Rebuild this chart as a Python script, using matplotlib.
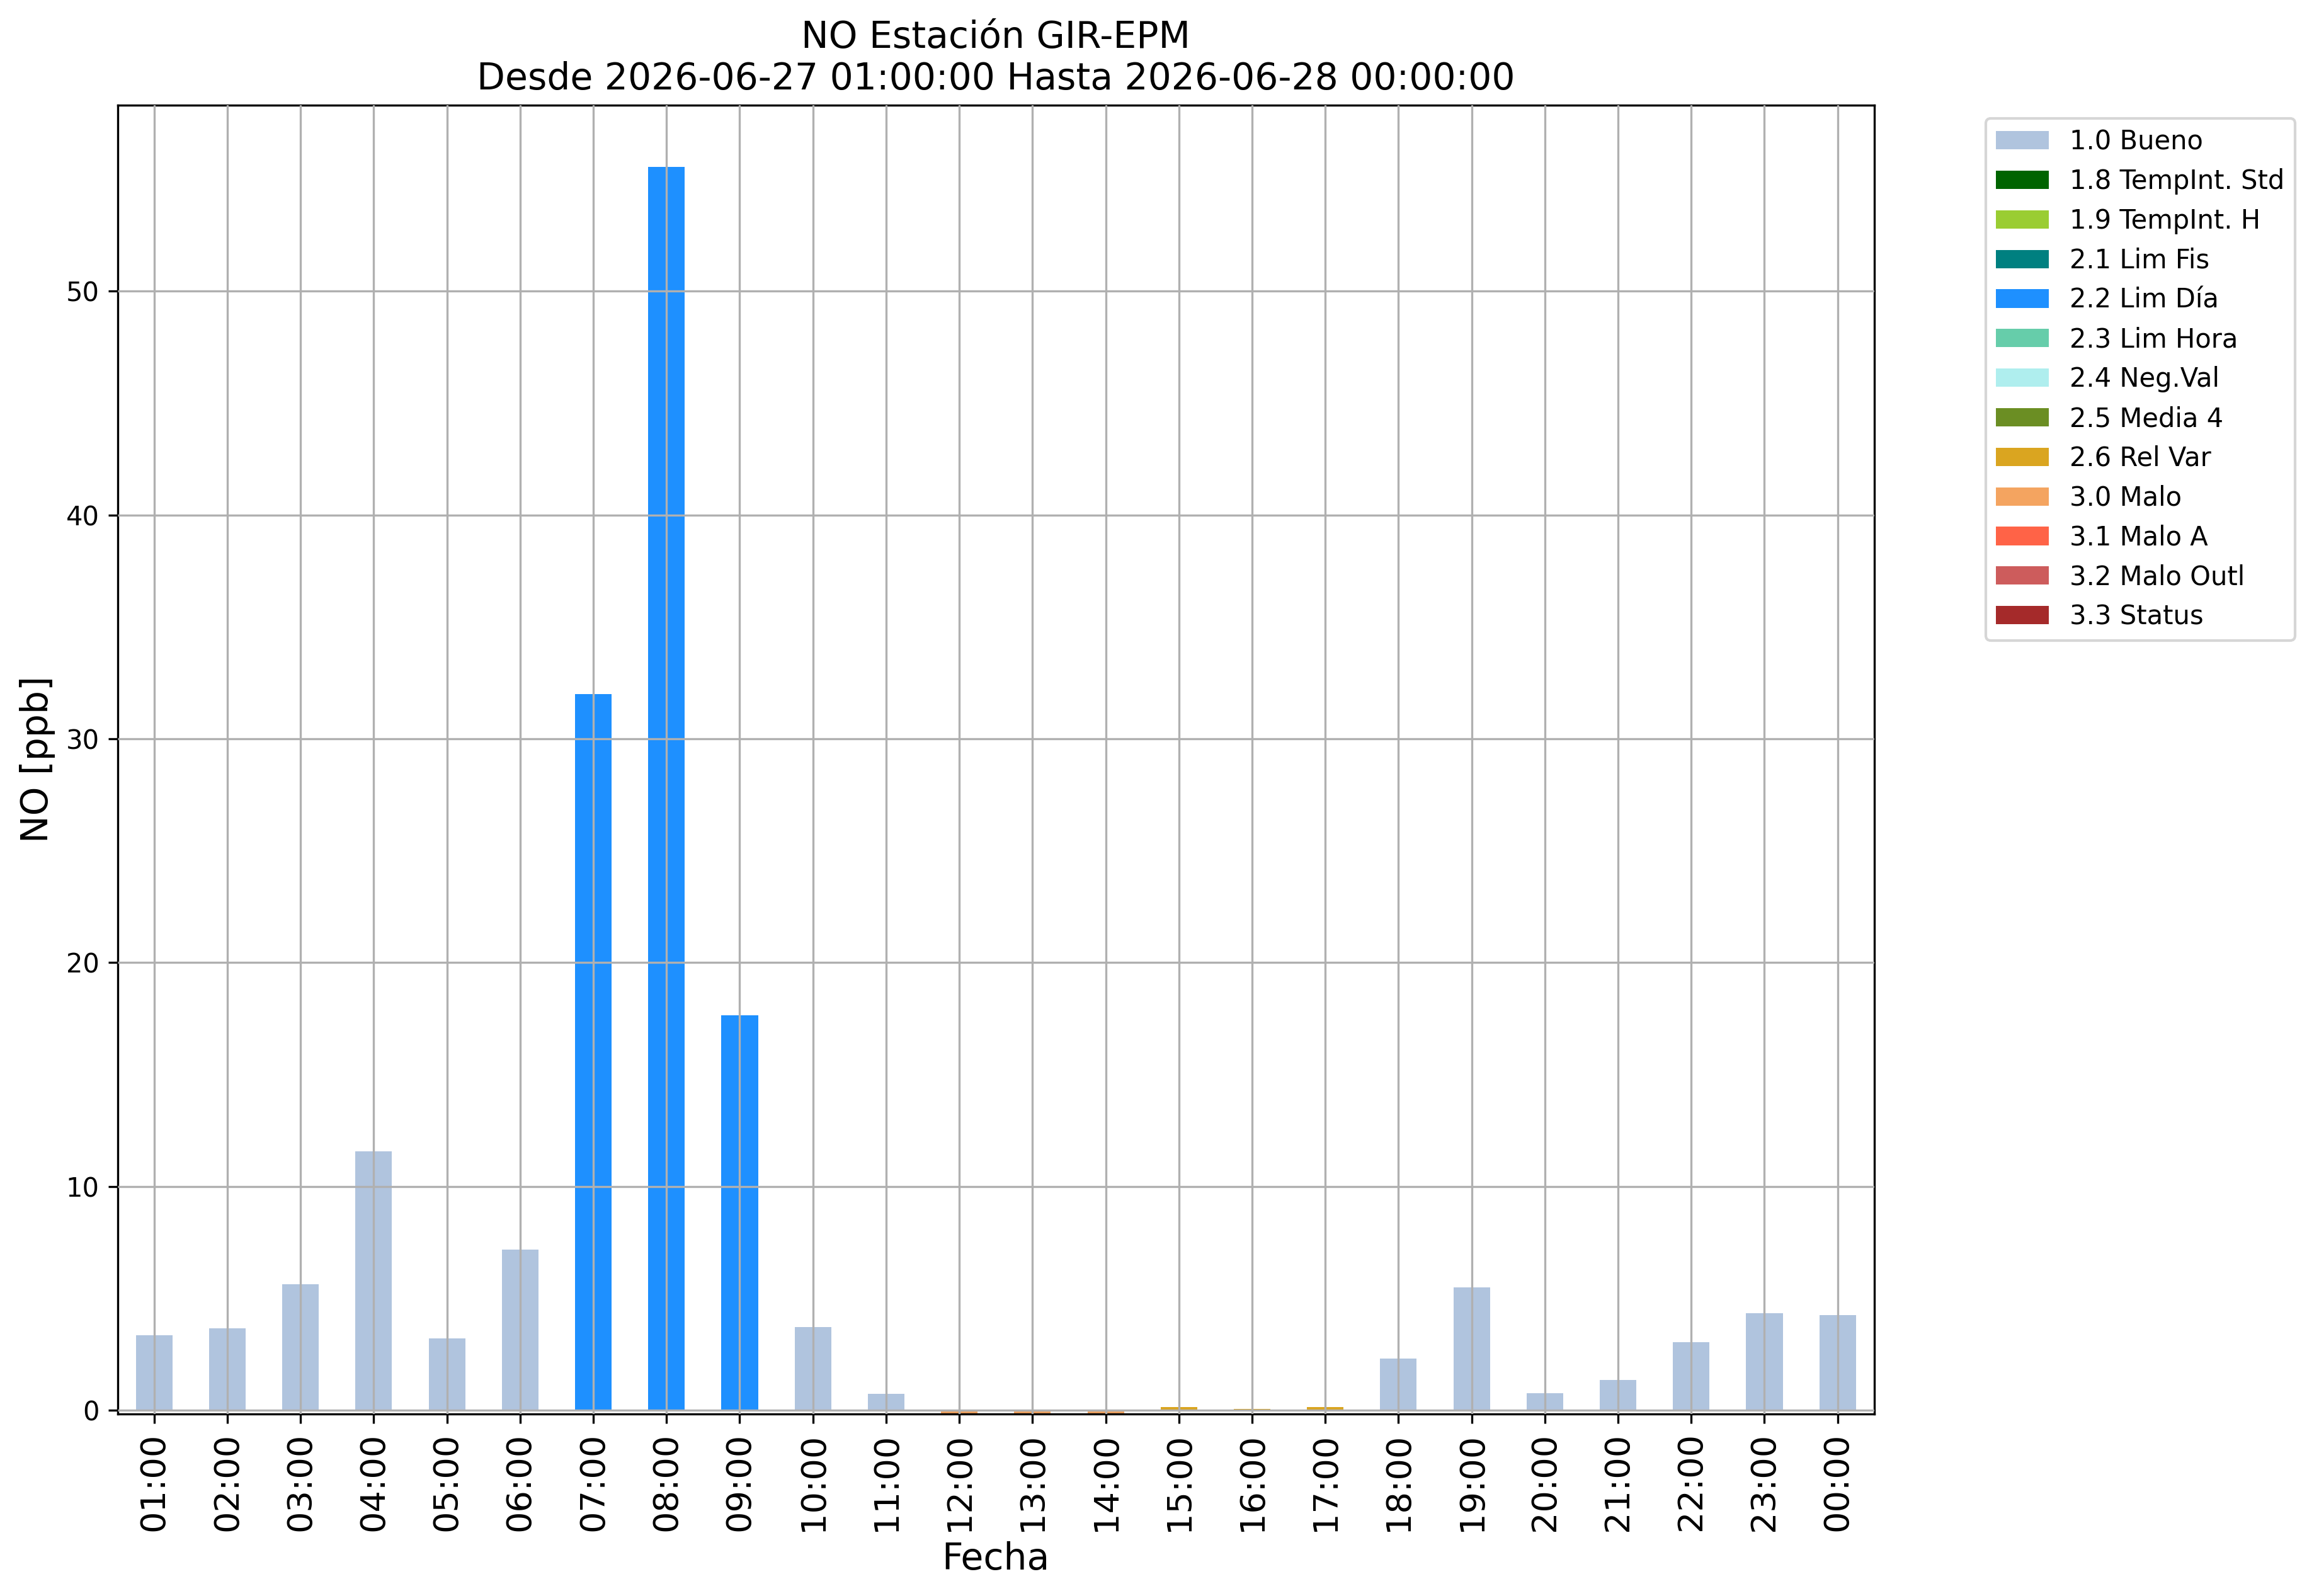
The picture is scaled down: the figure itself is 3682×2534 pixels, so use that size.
import numpy as np
import matplotlib
matplotlib.use("Agg")
import matplotlib.pyplot as plt
from matplotlib.patches import Patch

# horas del dia y concentracion de NO [ppb]
horas = ["01:00", "02:00", "03:00", "04:00", "05:00", "06:00", "07:00", "08:00",
         "09:00", "10:00", "11:00", "12:00", "13:00", "14:00", "15:00", "16:00",
         "17:00", "18:00", "19:00", "20:00", "21:00", "22:00", "23:00", "00:00"]
valores = [3.34, 3.65, 5.63, 11.56, 3.20, 7.17, 32.0, 55.55,
           17.65, 3.72, 0.72, -0.13, -0.13, -0.13, 0.13, 0.07,
           0.13, 2.31, 5.48, 0.75, 1.35, 3.04, 4.33, 4.25]
banderas = ["1.0 Bueno"] * 6 + ["2.2 Lim Día"] * 3 + ["1.0 Bueno"] * 2 \
    + ["3.0 Malo"] * 3 + ["2.6 Rel Var"] * 3 + ["1.0 Bueno"] * 7

# categorias de calidad del dato y sus colores
categorias = ["1.0 Bueno", "1.8 TempInt. Std", "1.9 TempInt. H", "2.1 Lim Fis",
              "2.2 Lim Día", "2.3 Lim Hora", "2.4 Neg.Val", "2.5 Media 4",
              "2.6 Rel Var", "3.0 Malo", "3.1 Malo A", "3.2 Malo Outl", "3.3 Status"]
colores = ["lightsteelblue", "darkgreen", "yellowgreen", "teal",
           "dodgerblue", "mediumaquamarine", "paleturquoise", "olivedrab",
           "goldenrod", "sandybrown", "tomato", "indianred", "brown"]
color_de = dict(zip(categorias, colores))

fig = plt.figure(figsize=(3682 / 300, 2534 / 300), dpi=300, facecolor="w")
ax = fig.add_axes([0.0507, 0.1140, 0.7575, 0.8202])

x = np.arange(len(horas))
ax.bar(x, valores, width=0.5, color=[color_de[b] for b in banderas], zorder=1)

ax.set_xlim(-0.5, len(horas) - 0.5)
ax.set_ylim(-0.17, 58.32)
ax.set_xticks(x)
ax.set_xticklabels(horas, rotation=90, fontsize=13)
ax.set_yticks([0, 10, 20, 30, 40, 50])
ax.tick_params(axis="y", labelsize=10)
ax.grid(True, color="#b0b0b0", lw=0.8, zorder=3)
ax.set_axisbelow(False)

ax.set_xlabel("Fecha", fontsize=14)
ax.set_ylabel("NO [ppb]", fontsize=14)
ax.set_title("NO Estación GIR-EPM\nDesde 2026-06-27 01:00:00 Hasta 2026-06-28 00:00:00",
             fontsize=14)

handles = [Patch(facecolor=c, label=l) for l, c in zip(categorias, colores)]
ax.legend(handles=handles, loc="upper left", bbox_to_anchor=(1.056, 1),
          fontsize=10, labelspacing=0.5)

fig.savefig("out.png", dpi=300)
